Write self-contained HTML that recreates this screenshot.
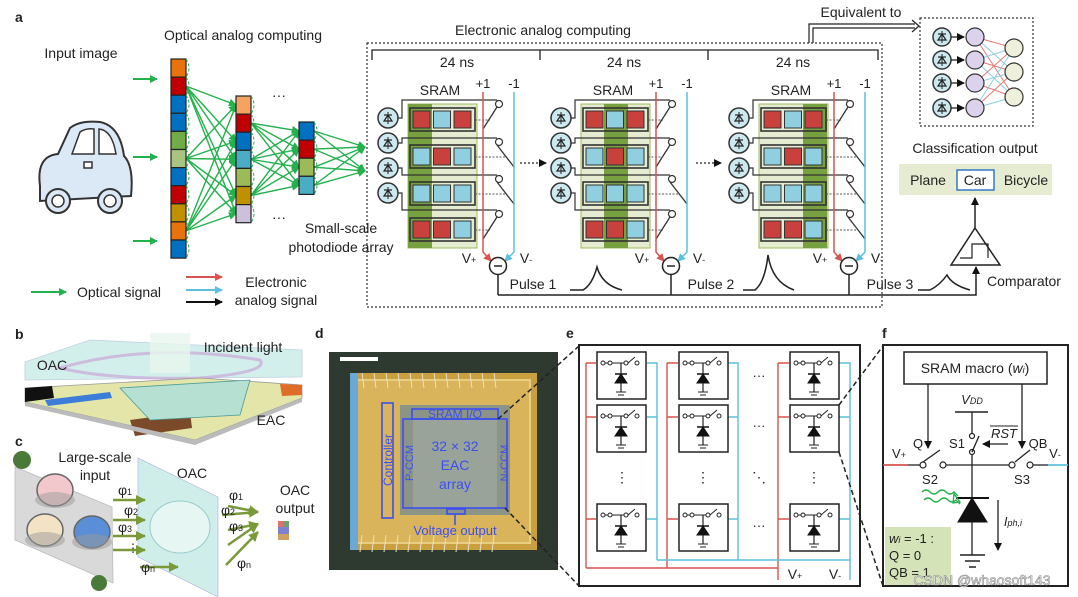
<!DOCTYPE html>
<html><head><meta charset="utf-8"><style>
html,body{margin:0;padding:0;background:#fff}
svg{display:block}
text{font-family:"Liberation Sans",Arial,sans-serif;fill:#222}
</style></head><body>
<svg id="s" width="1078" height="597" viewBox="0 0 1078 597" xmlns="http://www.w3.org/2000/svg">
<defs>
<marker id="ag" markerWidth="8" markerHeight="8" refX="7" refY="4" orient="auto" markerUnits="userSpaceOnUse"><path d="M0,0L8,4L0,8z" fill="#22b14c"/></marker>
<marker id="ar" markerWidth="8" markerHeight="8" refX="7" refY="4" orient="auto" markerUnits="userSpaceOnUse"><path d="M0,0L8,4L0,8z" fill="#d9534f"/></marker>
<marker id="ab" markerWidth="8" markerHeight="8" refX="7" refY="4" orient="auto" markerUnits="userSpaceOnUse"><path d="M0,0L8,4L0,8z" fill="#5bc0de"/></marker>
<marker id="ak" markerWidth="8" markerHeight="8" refX="7" refY="4" orient="auto" markerUnits="userSpaceOnUse"><path d="M0,0L8,4L0,8z" fill="#111"/></marker>
<marker id="ao" markerWidth="10" markerHeight="10" refX="9" refY="5" orient="auto" markerUnits="userSpaceOnUse"><path d="M0,0L10,5L0,10z" fill="#7a9a3a"/></marker>
</defs>
<g id="g"></g>

<text x="15" y="22" font-size="14" font-weight="bold">a</text>
<text x="81" y="58" font-size="14" text-anchor="middle">Input image</text>
<text x="243" y="40" font-size="14" text-anchor="middle">Optical analog computing</text>
<text x="341" y="233" font-size="14" text-anchor="middle">Small-scale</text>
<text x="341" y="252" font-size="14" text-anchor="middle">photodiode array</text>
<text x="77" y="297" font-size="14">Optical signal</text>
<text x="276" y="287" font-size="14" text-anchor="middle">Electronic</text>
<text x="276" y="305" font-size="14" text-anchor="middle">analog signal</text>
<text x="543" y="35" font-size="14" text-anchor="middle">Electronic analog computing</text>
<text x="861" y="17" font-size="14" text-anchor="middle">Equivalent to</text>
<text x="975" y="153" font-size="14" text-anchor="middle">Classification output</text>
<text x="1024" y="286" font-size="14" text-anchor="middle">Comparator</text>
<text x="279" y="100" font-size="14" text-anchor="middle">···</text>
<text x="279" y="222" font-size="14" text-anchor="middle">···</text>

<text x="15" y="339" font-size="14" font-weight="bold">b</text>
<text x="15" y="446" font-size="14" font-weight="bold">c</text>
<text x="315" y="338" font-size="14" font-weight="bold">d</text>
<text x="566" y="338" font-size="14" font-weight="bold">e</text>
<text x="882" y="338" font-size="14" font-weight="bold">f</text>
</svg>
<script>
var g=document.getElementById('g'),h='';
function A(s){h+=s;}
function L(x1,y1,x2,y2,c,w,ex){A('<line x1="'+x1+'" y1="'+y1+'" x2="'+x2+'" y2="'+y2+'" stroke="'+(c||'#222')+'" stroke-width="'+(w||1.3)+'" '+(ex||'')+'/>');}
function R(x,y,w,hh,f,s,sw,ex){A('<rect x="'+x+'" y="'+y+'" width="'+w+'" height="'+hh+'" fill="'+f+'" stroke="'+(s||'none')+'" stroke-width="'+(sw||1)+'" '+(ex||'')+'/>');}
function T(x,y,t,sz,anc,ex){A('<text x="'+x+'" y="'+y+'" font-size="'+(sz||14)+'" text-anchor="'+(anc||'middle')+'" '+(ex||'')+'>'+t+'</text>');}
function C(x,y,r,f,s,sw){A('<circle cx="'+x+'" cy="'+y+'" r="'+r+'" fill="'+f+'" stroke="'+(s||'#222')+'" stroke-width="'+(sw||1.3)+'"/>');}
function P(d,f,s,sw,ex){A('<path d="'+d+'" fill="'+(f||'none')+'" stroke="'+(s||'none')+'" stroke-width="'+(sw||1.3)+'" '+(ex||'')+'/>');}
var RD='#c8413c',BL='#8fcfe0',GR='#22b14c';
// car
P('M40,186 Q36,156 58,154 L70,128 Q80,120 100,122 Q120,126 124,156 Q134,166 131,196 L40,201z','#dbe8f6','#333',2);
P('M72,154 L80,132 Q86,128 94,129 L94,154z M99,154 L99,129 Q112,130 116,154z','#fff','#333',1.5);
C(58,201,12,'#dbe8f6','#333',2);C(58,201,6,'#fff','#333',1.5);
C(110,201,12,'#dbe8f6','#333',2);C(110,201,6,'#fff','#333',1.5);
R(84,162,8,6,'#fff','#333',1.5);
[79,157,241].forEach(function(y){L(133,y,157,y,GR,2,'marker-end="url(#ag)"');});
function col(x,y0,cols,ch){cols.forEach(function(c,i){R(x,y0+i*ch,15,ch,c,'#222',1.2);});}
var c1=['#e8720c','#c00000','#0070c0','#0070c0','#70ad47','#a9c47f','#0070c0','#c00000','#bf9000','#e8720c','#0070c0'];
var c2=['#f4a460','#c00000','#0070c0','#4bacc6','#9bbb59','#bf9000','#ccc0da'];
var c3=['#0070c0','#c00000','#9bbb59','#4bacc6'];
var CH=18.1;
var y1=c1.map(function(_,i){return 59+i*CH+9;}),y2=c2.map(function(_,i){return 96+i*CH+9;}),y3=c3.map(function(_,i){return 122+i*CH+9;});
[1,5,9].forEach(function(i){[0,2,3,5,6].forEach(function(j){L(186,y1[i],236,y2[j],GR,1.4,'marker-end="url(#ag)"');});});
[1,3,5].forEach(function(i){[0,1,2,3].forEach(function(j){L(251,y2[i],299,y3[j],GR,1.4,'marker-end="url(#ag)"');});});
[0,1,2,3].forEach(function(i){[147,171].forEach(function(y){L(314,y3[i],365,y,GR,1.4,'marker-end="url(#ag)"');});});
col(171,59,c1,CH);col(236,96,c2,CH);col(299,122,c3,CH);
[[186,y1],[251,y2],[314,y3]].forEach(function(a){a[1].forEach(function(y){P('M'+a[0]+','+(y-9)+' q6,9 0,18','none',GR,1,'stroke-dasharray="3,2"');});});
// legend
L(31,292,66,292,GR,2,'marker-end="url(#ag)"');
L(186,277,222,277,'#d9534f',2,'marker-end="url(#ar)"');
L(186,290,222,290,'#5bc0de',2,'marker-end="url(#ab)"');
L(186,302,222,302,'#111',2,'marker-end="url(#ak)"');
// dashed box
R(367,43,515,264,'none','#333',1.2,'stroke-dasharray="2,2"');
P('M372,60 V50 H878 V60 M540,50 V60 M708,50 V60','none','#222',1.3);
T(457,67,'24 ns');T(624,67,'24 ns');T(793,67,'24 ns');
var rows=[[RD,BL,RD],[BL,RD,BL],[BL,BL,BL],[RD,RD,BL]];
var bl=[[0,0,'LRRL'],[173,1,'LLRL'],[351,2,'LRRR']];
var pdy=[118,143,168,193],swy=[104,142,179,214],ry=[108,145,182,218];
function pd(x,y,r){C(x,y,r,'#cde9f0','#333',1.5);P('M'+(x-4)+','+(y+3)+' h8 l-4,-6z','none','#222',1.2);L(x-4,y-3,x+4,y-3,'#222',1.2);L(x,y-6,x,y+6,'#222',1);}
bl.forEach(function(b){var o=b[0];
 R(408+o,104,69,144,'#e6ecd2','#9bbb59',1);R(408+o+b[1]*21+(b[1]?2:0),104,24,144,'#77a040');
 T(440+o,95,'SRAM');T(483+o,88,'+1',13);T(514+o,88,'-1',13);
 for(var i=0;i<4;i++){
  R(410+o,ry[i],65,23,'none','#333',1.6);
  rows[i].forEach(function(c,k){R(413+o+k*20.5,ry[i]+3,17,17,c,'#333',1);});
  pd(388+o,pdy[i],10);
  P('M'+(398+o)+','+pdy[i]+' H'+(402+o)+' V'+(swy[i]-4)+' H'+(497+o),'none','#333',1.2);
  C(499+o,swy[i],3.5,'#fff','#333',1.2);
  var ex=b[2][i]=='L'?483+o:514+o;
  L(497+o,swy[i]+3,ex,swy[i]+25,'#333',1.3);
  L(475+o,ry[i]+12,(ex+497+o)/2,ry[i]+12,'#555',1,'stroke-dasharray="2,1.5"');
 }
 P('M'+(483+o)+',92 V252 L'+(491+o)+',261','none','#d9534f',1.5,'marker-end="url(#ar)"');
 P('M'+(514+o)+',92 V252 L'+(505+o)+',261','none','#5bc0de',1.5,'marker-end="url(#ab)"');
 C(498+o,266,8.5,'#fff','#222',1.5);L(494+o,266,502+o,266,'#222',1.5);L(498+o,274.5,498+o,295,'#222',1.5);
 T(469+o,263,'V<tspan font-size="9">+</tspan>',14);T(526+o,263,'V<tspan font-size="9">-</tspan>',14);
});
L(520,163,546,163,'#222',1.2,'stroke-dasharray="2,2" marker-end="url(#ak)"');
L(696,163,721,163,'#222',1.2,'stroke-dasharray="2,2" marker-end="url(#ak)"');
P('M498,295 H976 V267','none','#222',1.5,'marker-end="url(#ak)"');
T(533,289,'Pulse 1');T(711,289,'Pulse 2');T(890,289,'Pulse 3');
P('M570,290 H583 Q592,285 597,267 Q602,285 622,290','none','#222',1.5);
P('M743,290 H755 Q765,282 768,255 Q772,282 794,290','none','#222',1.5);
P('M918,290 H930 Q940,285 947,275 Q952,285 970,290','none','#222',1.5);
// comparator
P('M975,228 L1000,265 L951,265z','#fff','#222',1.5);
P('M960,258 H972 V244 H988 V258','none','#222',1.2);
L(975,228,975,198,'#222',1.5,'marker-end="url(#ak)"');
R(899,164,153,31,'#e6ecd2');T(928,185,'Plane');R(957,170,37,20,'#fff','#2e7bc4',1.5);T(975,185,'Car');T(1026,185,'Bicycle');
// NN
R(920,18,113,108,'none','#333',1.2,'stroke-dasharray="2,2"');
var ny=[37,60,83,108],oy=[48,72,97];
ny.forEach(function(y,i){oy.forEach(function(q,j){L(975,y,1014,q,(i+j)%2?'#8fcfe0':'#e07b78',1);});});
ny.forEach(function(y){pd(942,y,9);L(951,y,964,y,'#222',1.3,'marker-end="url(#ak)"');C(975,y,9,'#dcd2ec','#333',1.2);});
oy.forEach(function(y){C(1014,y,9,'#eef0dc','#333',1.2);});
P('M809,43 V24 H915 M813,43 V28 H915','none','#222',1.2);P('M912,20 L919,26 L912,32','none','#222',1.2);

// panel b
P('M25,362 L90,340 L302,350 L302,377 L25,380z','#cfeeea','#bcd',0.8,'opacity="0.9"');
P('M60,368 Q150,342 260,360 Q270,372 200,378 Q110,380 60,368z','none','#c9a7d8',3,'opacity="0.7"');
R(150,333,40,40,'#e8f6ef','none',1,'opacity="0.8"');
P('M25,388 L200,378 L302,385 L302,398 L195,440 L25,402z','#e3e6a8','#999',0.8);
P('M25,388 L52,386 L54,398 L25,402z','#111');P('M280,384 L302,385 L302,395 L282,396z','#e06c28');
P('M45,400 L110,392 L112,398 L48,406z','#3b7dd8');P('M130,420 L190,412 L192,428 L135,436z','#7a4a2a');
P('M120,388 L250,380 L240,415 L150,420z','#b5e0d2','#4a9a9a',0.8);
P('M195,440 L302,398 L302,402 L195,445 L25,406 L25,402z','#bbb');
T(52,370,'OAC');T(243,352,'Incident light');T(271,425,'EAC');
// panel c
P('M15,467 L112,507 L113,583 L15,540z','#d9d9d9','#bbb',0.8);
C(22,460,9,'#4a7a3a','none');C(99,583,8,'#4a7a3a','none');
[[55,490,'#f2c8cc'],[45,530,'#f4e2c4'],[92,532,'#5a8ed6']].forEach(function(c){A('<ellipse cx="'+c[0]+'" cy="'+c[1]+'" rx="18" ry="16" fill="'+c[2]+'" stroke="#666" stroke-width="1.5"/>');A('<ellipse cx="'+c[0]+'" cy="'+(c[1]+10)+'" rx="20" ry="8" fill="#999" opacity="0.5"/>');});
T(95,462,'Large-scale',14);T(95,480,'input',14);
P('M138,458 L218,497 L218,597 L138,557z','#cfeeea','#aad',0.6);
A('<ellipse cx="180" cy="527" rx="30" ry="26" fill="#e6f6f3" stroke="#9cc" stroke-width="1"/>');
T(192,478,'OAC');
[[113,500,145],[113,520,145],[113,536,145],[113,550,145],[140,567,178]].forEach(function(a){L(a[0],a[1],a[2],a[1],'#7a9a3a',2.5,'marker-end="url(#ao)"');});
T(125,495,'φ<tspan font-size="9">1</tspan>',14);T(131,515,'φ<tspan font-size="9">2</tspan>',14);T(125,532,'φ<tspan font-size="9">3</tspan>',14);T(133,552,'⋮',12);T(148,572,'φ<tspan font-size="9">n</tspan>',14);
[[228,506],[222,515],[228,530],[228,545],[226,565]].forEach(function(a,i){L(a[0],a[1],258,[512,512,524,524,532][i],'#7a9a3a',2.5,'marker-end="url(#ao)"');});
T(236,500,'φ<tspan font-size="9">1</tspan>',14);T(228,515,'φ<tspan font-size="9">2</tspan>',14);T(236,531,'φ<tspan font-size="9">3</tspan>',14);T(244,568,'φ<tspan font-size="9">n</tspan>',14);
T(295,495,'OAC',14);T(295,513,'output',14);
R(278,521,5,6,'#e07070');R(283,521,6,6,'#70a070');R(278,527,11,7,'#8080d0');R(278,534,11,6,'#d0a060');
// panel d
R(329,352,229,218,'#2e3a30');
R(350,373,187,177,'#c8a040');R(357,380,173,163,'#d9b45a','#e8cf80',2);
for(var i=0;i<12;i++){L(362+i*12,373,364+i*12,388,'#e8e0c8',1);L(362+i*12,535,360+i*12,552,'#e8e0c8',1);}
R(350,373,8,177,'#6aa8d8');
R(400,405,110,110,'#8c9488');R(413,420,84,88,'#9aa39a');
R(340,357,38,4,'#fff');
A('<g fill="none" stroke="#3b4ff0" stroke-width="1.6"><rect x="382" y="403" width="11" height="115"/><rect x="412" y="409" width="86" height="10"/><rect x="403" y="419" width="104" height="89"/><rect x="447" y="509" width="18" height="5"/></g>');
A('<text x="455" y="418" font-size="12" text-anchor="middle" style="fill:#3b4ff0">SRAM I/O</text><text x="455" y="451" font-size="14" text-anchor="middle" style="fill:#3b4ff0">32 × 32</text><text x="455" y="470" font-size="14" text-anchor="middle" style="fill:#3b4ff0">EAC</text><text x="455" y="489" font-size="14" text-anchor="middle" style="fill:#3b4ff0">array</text><text x="455" y="535" font-size="13" text-anchor="middle" style="fill:#3b4ff0">Voltage output</text>');
A('<text transform="translate(392,460) rotate(-90)" font-size="12" text-anchor="middle" style="fill:#3b4ff0">Controller</text><text transform="translate(413,463) rotate(-90)" font-size="11" text-anchor="middle" style="fill:#3b4ff0">P-CCM</text><text transform="translate(508,463) rotate(-90)" font-size="11" text-anchor="middle" style="fill:#3b4ff0">N-CCM</text>');
L(455,525,455,515,'#3b4ff0',1.5);
L(498,419,579,346,'#222',1.5,'stroke-dasharray="5,3"');L(505,508,579,586,'#222',1.5,'stroke-dasharray="5,3"');
// panel e
R(579,345,281,241,'#fff','#222',2);
var cx=[597,679,790],cy=[352,405,504];
P('M586,568 V363 M586,363 H596 M586,417 H596 M586,519 H596','none','#d9534f',1.4);
P('M667,568 V363 M667,363 H678 M667,417 H678 M667,519 H678','none','#d9534f',1.4);
P('M778,580 V363 M778,363 H789 M778,417 H789 M778,519 H789 M586,568 H778','none','#d9534f',1.4);
P('M657,560 V363 H647 M657,417 H647 M657,519 H647','none','#5bc0de',1.4);
P('M738,560 V363 H728 M738,417 H728 M738,519 H728','none','#5bc0de',1.4);
P('M850,580 V363 H839 M850,417 H839 M850,519 H839 M657,560 H850','none','#5bc0de',1.4);
cx.forEach(function(x){cy.forEach(function(y){
 R(x,y,49,47,'#fff','#222',1.5);
 var sy=y+11;
 [x+6,x+13,x+29,x+40].forEach(function(q){C(q,sy,2,'#fff','#222',1);});
 L(x+8,sy,x+11,sy,'#222',1);L(x+15,sy,x+27,sy,'#222',1);L(x+31,sy,x+38,sy-6,'#222',1);
 L(x+24,sy,x+24,y+40,'#222',1.2);
 P('M'+(x+18)+','+(y+31)+' h12 l-6,-9z','#111','#111',1);L(x+18,y+22,x+30,y+22,'#111',1.5);
 L(x+19,y+40,x+29,y+40,'#222',1);L(x+21,y+43,x+27,y+43,'#222',1);
});});
[380,430,530].forEach(function(y){T(759,y,'···',13);});
[622,703,814].forEach(function(x){T(x,482,'⋮',14);});
T(759,482,'⋱',14);
T(795,579,'V<tspan font-size="9">+</tspan>',14);T(835,579,'V<tspan font-size="9">-</tspan>',14);
L(839,405,883,346,'#222',1.5,'stroke-dasharray="5,3"');L(839,452,883,586,'#222',1.5,'stroke-dasharray="5,3"');
// panel f
R(883,345,185,241,'#fff','#222',2);
R(885,527,66,58,'#d5e4b8');
R(904,352,143,32,'#fff','#222',1.5);T(975,373,'SRAM macro (<tspan font-style="italic">w<tspan font-size="9">i</tspan></tspan>)',14);
L(928,384,928,448,'#222',1.3,'marker-end="url(#ak)"');L(1022,384,1022,448,'#222',1.3,'marker-end="url(#ak)"');
T(972,404,'<tspan font-style="italic">V<tspan font-size="9">DD</tspan></tspan>',13);
L(955,412,988,412,'#222',1.5);L(972,412,972,433,'#222',1.3);C(972,436,2.5,'#fff','#222',1.2);C(972,452,2.5,'#fff','#222',1.2);L(972,452,979,436,'#222',1.3);L(972,455,972,555,'#222',1.3);
L(1008,444,983,444,'#222',1.3,'marker-end="url(#ak)"');
T(957,448,'S1',13);T(1004,438,'RST',13,'middle','font-style="italic"');L(990,426,1018,426,'#222',1);
L(883,465,908,465,'#d9534f',1.8);L(908,465,920,465,'#222',1.3);C(923,465,3,'#fff','#222',1.2);C(943,465,3,'#fff','#222',1.2);L(923,462,940,450,'#222',1.3);
L(946,465,1009,465,'#222',1.3);C(1012,465,3,'#fff','#222',1.2);C(1030,465,3,'#fff','#222',1.2);L(1015,462,1030,450,'#222',1.3);L(1033,465,1048,465,'#222',1.3);L(1048,465,1068,465,'#5bc0de',1.8);
T(918,448,'Q',13);T(1038,448,'QB',13);T(899,458,'V<tspan font-size="9">+</tspan>',13);T(1055,458,'V<tspan font-size="9">-</tspan>',13);
T(930,484,'S2',13);T(1022,484,'S3',13);
P('M958,522 L987,522 L972,498z','#111','#111',1);L(956,498,989,498,'#111',2);
L(960,555,985,555,'#222',1.5);L(965,561,980,561,'#222',1.5);L(969,567,976,567,'#222',1.5);
P('M922,492 q4,-4 8,0 t8,0 t8,0 t8,0 l4,4','none',GR,1.3);P('M924,500 q4,-4 8,0 t8,0 t8,0 t8,0 l4,4','none',GR,1.3);P('M954,494 l6,8 l-7,1z','none',GR,1.3);
L(998,500,998,550,'#222',1.3,'marker-end="url(#ak)"');
T(1013,526,'<tspan font-style="italic">I<tspan font-size="9">ph,i</tspan></tspan>',13);
T(889,543,'<tspan font-style="italic">w<tspan font-size="9">i</tspan></tspan> = -1 :',13,'start');
T(889,560,'Q = 0',13,'start');T(889,577,'QB = 1',13,'start');
T(982,585,'CSDN @whaosoft143',14,'middle','style="fill:#ffffff;stroke:#888;stroke-width:0.6"');
g.innerHTML=h;
</script>
</body></html>
